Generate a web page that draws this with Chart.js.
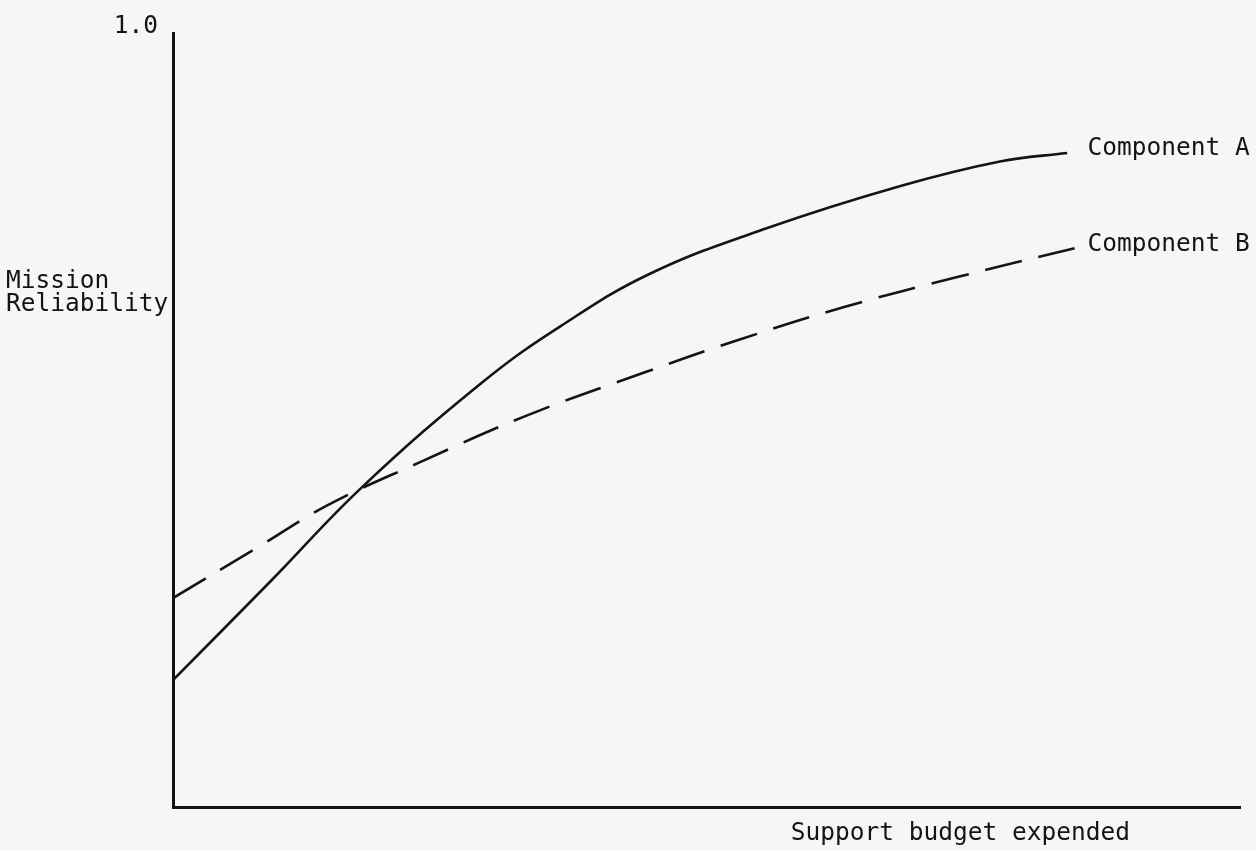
<!DOCTYPE html>
<html>
<head>
<meta charset="utf-8">
<title>Mission Reliability vs Support budget</title>
<script src="https://cdn.jsdelivr.net/npm/chart.js@4.4.1/dist/chart.umd.min.js"></script>
<style>
  html, body { margin: 0; padding: 0; background: #f6f6f6; }
  #wrap { width: 1256px; height: 850px; position: relative; }
</style>
</head>
<body>
<div id="wrap"><canvas id="chartRel"></canvas></div>
<script>
// courbes (budget en fraction, fiabilité 0..1)
const budgetA = [0, 0.091, 0.177, 0.292, 0.363, 0.447, 0.557, 0.681, 0.775, 0.838];
const reliabilityA = [0.164, 0.291, 0.413, 0.551, 0.621, 0.689, 0.748, 0.802, 0.834, 0.845];

const budgetB = [0, 0.080, 0.145, 0.229, 0.332, 0.439, 0.529, 0.629, 0.736, 0.845];
const reliabilityB = [0.270, 0.336, 0.390, 0.444, 0.506, 0.560, 0.603, 0.646, 0.685, 0.722];

const seriesNames = ["Component A", "Component B"];
const yTickValues = [1.0];
const yTitle = ["Mission", "Reliability"];
const xTitle = "Support budget expended";

const FONT = "'DejaVu Sans Mono', 'Liberation Mono', monospace";
const INK = "#141414";

const toPoints = (xs, ys) => xs.map((x, i) => ({ x, y: ys[i] }));

// textes : titres des axes + noms des courbes au bout des lignes
const labelsPlugin = {
  id: "labels",
  afterDraw(chart) {
    const { ctx, chartArea, scales } = chart;
    ctx.save();
    ctx.fillStyle = INK;
    ctx.font = "24.5px " + FONT;
    ctx.textBaseline = "middle";

    // noms des séries, alignés après le bout de ligne le plus à droite
    ctx.textAlign = "left";
    const ends = chart.data.datasets.map(ds => ds.data[ds.data.length - 1]);
    const labelX = Math.max(...ends.map(p => scales.x.getPixelForValue(p.x))) + 13;
    chart.data.datasets.forEach((ds, i) => {
      const py = scales.y.getPixelForValue(ends[i].y);
      ctx.fillText(ds.label, labelX, py - 4);
    });

    // titre axe Y, horizontal à gauche
    yTitle.forEach((t, i) => ctx.fillText(t, 6, 282 + i * 23));

    // titre axe X, aligné à droite sous l'axe
    ctx.textAlign = "right";
    ctx.fillText(xTitle, chartArea.right - 110, chartArea.bottom + 27);
    ctx.restore();
  }
};

new Chart(document.getElementById("chartRel"), {
  type: "line",
  data: {
    datasets: [
      {
        label: seriesNames[0],
        data: toPoints(budgetA, reliabilityA),
        borderColor: INK,
        borderWidth: 2.6,
        pointRadius: 0,
        fill: false,
        tension: 0.4
      },
      {
        label: seriesNames[1],
        data: toPoints(budgetB, reliabilityB),
        borderColor: INK,
        borderWidth: 2.6,
        borderDash: [38, 17],
        pointRadius: 0,
        fill: false,
        tension: 0.4
      }
    ]
  },
  options: {
    responsive: true,
    maintainAspectRatio: false,
    animation: false,
    layout: { padding: { top: 33, right: 16, left: 0, bottom: 0 } },
    plugins: {
      legend: { display: false },
      tooltip: { enabled: false }
    },
    scales: {
      x: {
        type: "linear",
        min: 0,
        max: 1,
        grid: { display: false, drawTicks: false },
        border: { display: true, color: INK, width: 3 },
        ticks: { display: false },
        afterFit: s => { s.height = 43; }
      },
      y: {
        min: 0,
        max: 1,
        grid: { display: false, drawTicks: false },
        border: { display: true, color: INK, width: 3 },
        afterBuildTicks: s => { s.ticks = yTickValues.map(v => ({ value: v })); },
        afterFit: s => { s.width = 173; },
        ticks: {
          color: INK,
          font: { family: FONT, size: 24.5 },
          padding: 15,
          labelOffset: -6,
          callback: v => v.toFixed(1)
        }
      }
    }
  },
  plugins: [labelsPlugin]
});
</script>
</body>
</html>
